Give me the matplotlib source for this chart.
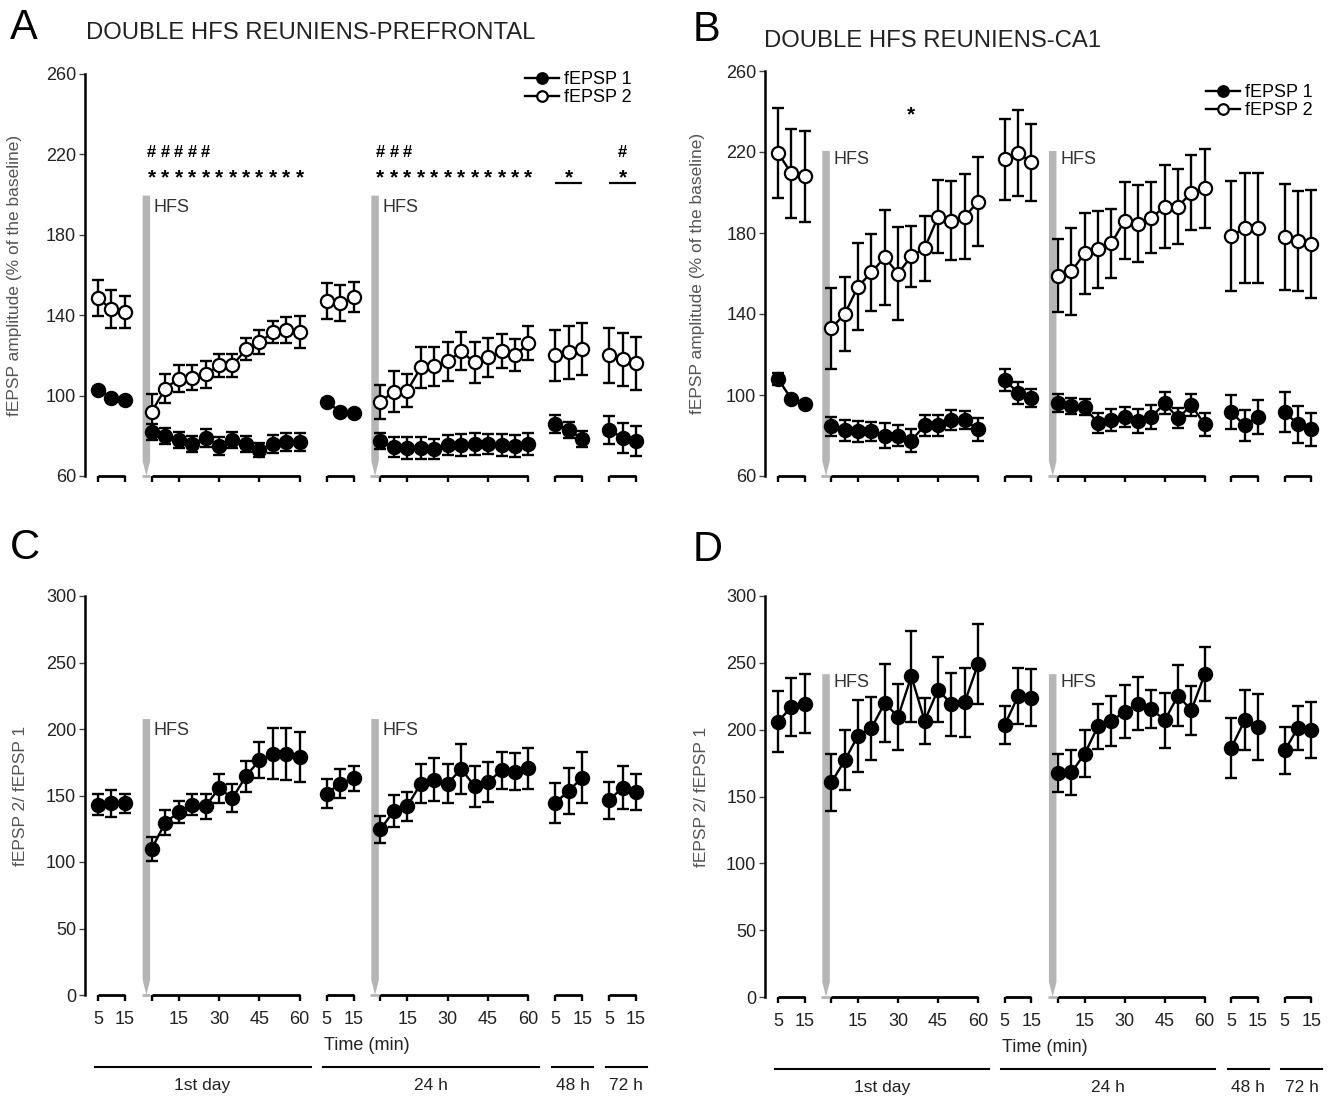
import matplotlib
matplotlib.use('Agg')
from matplotlib import pyplot as plt

plt.rcParams['font.family'] = ['Liberation Sans', 'DejaVu Sans']

# time points (min) of each recording block
base_t = [5, 10, 15]
post_t = [5, 10, 15, 20, 25, 30, 35, 40, 45, 50, 55, 60]
seg_times = [base_t, post_t, base_t, post_t, base_t, base_t]
seg_start = [1, 5, 18, 22, 35, 39]
post_segs = [1, 3]

group_names = ['1st day', '24 h', '48 h', '72 h']
group_segs = [(0, 1), (2, 3), (4, 4), (5, 5)]

# panel A - reuniens-prefrontal, % of baseline
a1_mean = [[103, 99, 98],
           [82, 80, 78, 76, 79, 75, 78, 76, 73, 76, 77, 77],
           [97, 92, 91.5],
           [77.5, 74.5, 74, 74, 73.5, 75.5, 75.5, 76, 76, 75.5, 75, 76],
           [86, 83, 78.5],
           [83, 79, 77.5]]
a1_err = [[1.5, 1.5, 1.5],
          [4, 4, 4, 4, 4.5, 4.5, 4, 4, 3.5, 4.5, 4.5, 4.5],
          [1.5, 1.5, 1.5],
          [4, 5, 5.5, 5.5, 5, 5, 5.5, 5.5, 5, 5.5, 5.5, 5.5],
          [4.5, 4, 4],
          [7, 7.5, 7.5]]
a2_mean = [[148.5, 143, 141.5],
           [92, 103.5, 108.5, 109, 110.5, 115, 115, 123, 126.5, 131.5, 132.5, 131.5],
           [147, 146, 149],
           [97, 102, 102.5, 114, 114.5, 117, 122, 116.5, 119, 122, 120, 126],
           [120, 121.5, 123],
           [120, 118, 116]]
a2_err = [[9, 9.5, 8],
          [9, 7, 6.5, 6, 6.5, 5.5, 5.5, 5.5, 6, 5.5, 6.5, 8],
          [9, 9, 7.5],
          [8.5, 10, 8, 10, 9.5, 9.5, 9.5, 10, 9.5, 8.5, 8, 8.5],
          [12.5, 13, 13],
          [13.5, 13, 13]]

# panel B - reuniens-CA1, % of baseline
b1_mean = [[108, 98, 95.5],
           [84.5, 82.5, 82, 82, 80, 80, 77.5, 85, 85, 87.5, 87.5, 83],
           [107.5, 101, 98.5],
           [96, 94.5, 94, 86, 87.5, 89, 87, 89, 96, 88.5, 95, 85.5],
           [91.5, 85, 89],
           [91.5, 85.5, 83]]
b1_err = [[3, 1.5, 1.5],
          [4.5, 5, 5, 4.5, 6, 5, 5.5, 5, 5, 5, 4.5, 5.5],
          [5.5, 5.5, 4.5],
          [4.5, 4, 4, 5, 5.5, 5, 6, 6, 5.5, 5, 5.5, 5.5],
          [8.5, 7.5, 8.5],
          [10, 9, 8]]
b2_mean = [[219.5, 209.5, 208],
           [133, 140, 153.5, 160.5, 168, 160, 168.5, 172.5, 188, 186, 188, 195.5],
           [216.5, 219.5, 215],
           [159, 161, 170, 172, 175, 186, 184.5, 187.5, 193, 193, 200, 202],
           [178.5, 182.5, 182.5],
           [178, 176, 174.5]]
b2_err = [[22, 22, 22.5],
          [20, 18.5, 21.5, 19, 23.5, 23, 15, 16, 18, 19.5, 21, 22],
          [20, 21, 19],
          [18, 21.5, 20, 19, 17, 19, 19, 17.5, 20.5, 18.5, 18.5, 19.5],
          [27, 27, 27],
          [26, 24.5, 26.5]]

# panel C / D - ratio fEPSP2 / fEPSP1
c_mean = [[143, 144, 144],
          [110, 129.5, 137.5, 143, 142, 155.5, 148, 164.5, 176.5, 181.5, 181, 179],
          [151.5, 159, 163],
          [124.5, 138.5, 142, 159, 162, 159, 170, 157, 160, 169, 168, 170.5],
          [144.5, 153.5, 163.5],
          [146.5, 156, 152.5]]
c_err = [[8, 10, 7.5],
         [9, 9.5, 8.5, 8, 9.5, 11, 10.5, 11.5, 13.5, 19, 19.5, 19],
         [11, 11, 9.5],
         [10, 12, 11, 14.5, 16.5, 14.5, 18.5, 15.5, 15, 14, 14, 15.5],
         [15, 17.5, 19],
         [14, 16, 13.5]]
d_mean = [[206, 217, 219.5],
          [160.5, 177, 195.5, 201, 220, 209.5, 240, 206.5, 230, 219, 220.5, 249],
          [203.5, 225, 224],
          [167.5, 168, 182, 202.5, 206.5, 213.5, 219.5, 215.5, 207, 225.5, 214.5, 241.5],
          [186.5, 207, 202],
          [184.5, 201.5, 200]]
d_err = [[23, 22, 22],
         [21.5, 22.5, 27, 23.5, 29, 25, 34, 17.5, 24.5, 23.5, 26, 30],
         [14.5, 21, 21.5],
         [14, 17, 17.5, 17, 19, 20, 20, 14.5, 20.5, 23, 18.5, 20],
         [22.5, 22.5, 25],
         [17.5, 16.5, 21]]


def seg_x(i):
    return [seg_start[i] + (t - 5) / 5 for t in seg_times[i]]


def draw_series(ax, means, errs, filled):
    line = None
    for i in range(len(means)):
        x = seg_x(i)
        ax.errorbar(x, means[i], yerr=errs[i], fmt='none', ecolor='k',
                    elinewidth=1.7, capsize=4, capthick=1.7, zorder=2)
        line, = ax.plot(x, means[i], '-', color='k', lw=1.7, marker='o', ms=9.5,
                        mfc='k' if filled else 'white', mec='k', mew=1.6, zorder=3)
    return line


def setup(ax, ylim, yticks, ylabel, hfs_top, hfs_text_y, show_labels):
    ax.set_xlim(0, 42)
    ax.set_ylim(*ylim)
    for s in ['top', 'right', 'bottom']:
        ax.spines[s].set_visible(False)
    ax.spines['left'].set_linewidth(1.8)
    ax.set_yticks(yticks)
    ax.tick_params(axis='y', length=4, width=1, color='#444444', labelsize=13,
                   labelcolor='#222222', pad=2)
    ax.set_ylabel(ylabel, fontsize=12.5, color='#555555')

    ticks, labels = [], []
    for i, times in enumerate(seg_times):
        x = seg_x(i)
        if i in post_segs:
            for t, xx in zip(times, x):
                if t in (5, 15, 30, 45, 60):
                    ticks.append(xx)
                    labels.append('' if t == 5 else str(t))
        else:
            ticks += [x[0], x[-1]]
            labels += [str(times[0]), str(times[-1])]
        ax.hlines(ylim[0], x[0], x[-1], color='k', lw=2, clip_on=False, zorder=4)
    ax.set_xticks(ticks)
    ax.set_xticklabels(labels)
    ax.tick_params(axis='x', length=4.5, width=1.7, color='k', labelsize=13,
                   labelcolor='#222222', pad=7, labelbottom=show_labels)

    for i in post_segs:
        xb = seg_start[i] - 0.4
        ax.hlines(ylim[0], seg_start[i] - 0.75, seg_start[i] - 0.1, color='#b5b5b5',
                  lw=2, clip_on=False)
        ax.annotate('', xy=(xb, ylim[0]), xytext=(xb, hfs_top),
                    arrowprops=dict(arrowstyle='simple,head_length=1.2,head_width=0.6,tail_width=0.6',
                                    mutation_scale=9, color='#b5b5b5', lw=0,
                                    shrinkA=0, shrinkB=0), zorder=1)
        ax.text(xb + 0.55, hfs_text_y, 'HFS', fontsize=13, color='#333333',
                ha='left', va='center')

    if show_labels:
        tr = ax.get_xaxis_transform()
        ax.text(21, -0.127, 'Time (min)', transform=tr, ha='center', va='center',
                fontsize=13, color='#222222')
        for name, (s0, s1) in zip(group_names, group_segs):
            x0 = seg_x(s0)[0] - 0.25
            x1 = seg_x(s1)[-1] + 0.8
            ax.plot([x0, x1], [-0.18, -0.18], transform=tr, color='k', lw=1.5,
                    clip_on=False)
            ax.text((x0 + x1) / 2, -0.226, name, transform=tr, ha='center', va='center',
                    fontsize=12.5, color='#222222')


def marks(ax, xs, y, ch, size=15):
    for x in xs:
        ax.text(x, y, ch, ha='center', va='center', fontsize=size, fontweight='bold')


fig = plt.figure(figsize=(13.36, 10.96), dpi=100)


def px_axes(left, top, width, bottom):
    return fig.add_axes([left / 1336, 1 - bottom / 1096, width / 1336, (bottom - top) / 1096])


axA = px_axes(84.5, 74, 565, 476)
axB = px_axes(764.7, 71, 560, 476)
axC = px_axes(84.5, 596, 565, 995)
axD = px_axes(764.7, 596, 560, 997)

amp_label = 'fEPSP amplitude (% of the baseline)'
ratio_label = 'fEPSP 2/ fEPSP 1'

star_y = 208.5
hash_y = 221

# A
setup(axA, (60, 260), [60, 100, 140, 180, 220, 260], amp_label, 199.5, 193.8, False)
hA2 = draw_series(axA, a2_mean, a2_err, False)
hA1 = draw_series(axA, a1_mean, a1_err, True)
axA.legend([hA1, hA2], ['fEPSP 1', 'fEPSP 2'], loc='upper right', bbox_to_anchor=(0.985, 1.03),
           frameon=False, fontsize=13, handlelength=1.9, handletextpad=0.3,
           labelspacing=0.05, borderpad=0, markerscale=0.8)
marks(axA, seg_x(1), star_y, '*')
marks(axA, seg_x(1)[:5], hash_y, '#', 12)
marks(axA, seg_x(3), star_y, '*')
marks(axA, seg_x(3)[:3], hash_y, '#', 12)
for i in (4, 5):
    marks(axA, [seg_x(i)[1]], star_y, '*')
    axA.hlines(205.6, seg_x(i)[0], seg_x(i)[-1], color='k', lw=1.6)
marks(axA, [seg_x(5)[1]], hash_y, '#', 12)

# B
setup(axB, (60, 260), [60, 100, 140, 180, 220, 260], amp_label, 220.5, 216.4, False)
hB2 = draw_series(axB, b2_mean, b2_err, False)
hB1 = draw_series(axB, b1_mean, b1_err, True)
axB.legend([hB1, hB2], ['fEPSP 1', 'fEPSP 2'], loc='upper right', bbox_to_anchor=(0.995, 0.99),
           frameon=False, fontsize=13, handlelength=1.9, handletextpad=0.3,
           labelspacing=0.05, borderpad=0, markerscale=0.8)
marks(axB, [seg_x(1)[6]], 238.5, '*')

# C
setup(axC, (0, 300), [0, 50, 100, 150, 200, 250, 300], ratio_label, 207.5, 199, True)
draw_series(axC, c_mean, c_err, True)

# D
setup(axD, (0, 300), [0, 50, 100, 150, 200, 250, 300], ratio_label, 241.5, 235, True)
draw_series(axD, d_mean, d_err, True)

for ax, xl in [(axA, 0.11), (axB, 0.107), (axC, 0.1), (axD, 0.1)]:
    ax.yaxis.set_label_coords(-xl, 0.5)

fig.text(10 / 1336, 1 - 28 / 1096, 'A', fontsize=30, va='center', ha='left')
fig.text(693 / 1336, 1 - 30 / 1096, 'B', fontsize=30, va='center', ha='left')
fig.text(10 / 1336, 1 - 548 / 1096, 'C', fontsize=30, va='center', ha='left')
fig.text(693 / 1336, 1 - 550 / 1096, 'D', fontsize=30, va='center', ha='left')
fig.text(86 / 1336, 1 - 33 / 1096, 'DOUBLE HFS REUNIENS-PREFRONTAL', fontsize=17.2,
         va='center', ha='left', color='#222222')
fig.text(764 / 1336, 1 - 41 / 1096, 'DOUBLE HFS REUNIENS-CA1', fontsize=17.2,
         va='center', ha='left', color='#222222')

fig.savefig('out.png', dpi=100)
